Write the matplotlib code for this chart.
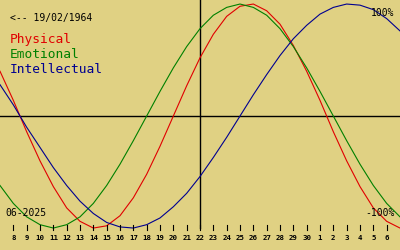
import matplotlib
matplotlib.use('Agg')
import matplotlib.pyplot as plt
import matplotlib.transforms as mtransforms

# days shown: 7 June 2025 .. 7 July 2025
day_labels = [7, 8, 9, 10, 11, 12, 13, 14, 15, 16, 17, 18, 19, 20, 21, 22,
              23, 24, 25, 26, 27, 28, 29, 30, 1, 2, 3, 4, 5, 6, 7]
today_idx = 15  # 22 June

physical = [0.40, 0.14, -0.14, -0.40, -0.63, -0.82, -0.94, -1.00, -0.98, -0.89,
            -0.73, -0.52, -0.27, 0.00, 0.27, 0.52, 0.73, 0.89, 0.98, 1.00,
            0.94, 0.82, 0.63, 0.40, 0.14, -0.14, -0.40, -0.63, -0.82, -0.94, -1.00]
emotional = [-0.62, -0.78, -0.90, -0.97, -1.00, -0.97, -0.90, -0.78, -0.62, -0.43,
             -0.22, 0.00, 0.22, 0.43, 0.62, 0.78, 0.90, 0.97, 1.00, 0.97,
             0.90, 0.78, 0.62, 0.43, 0.22, 0.00, -0.22, -0.43, -0.62, -0.78, -0.90]
intellectual = [0.28, 0.10, -0.10, -0.28, -0.46, -0.62, -0.76, -0.87, -0.95, -0.99,
                -1.00, -0.97, -0.91, -0.81, -0.69, -0.54, -0.37, -0.19, 0.00, 0.19,
                0.37, 0.54, 0.69, 0.81, 0.91, 0.97, 1.00, 0.99, 0.95, 0.87, 0.76]

bg = '#e0d183'
red = '#e00000'
green = '#008000'
blue = '#000090'
mono = 'DejaVu Sans Mono'

fig = plt.figure(figsize=(4, 2.5), dpi=100, facecolor=bg)
ax = fig.add_axes([0, 0, 1, 1])
ax.set_facecolor(bg)
ax.axis('off')

x = list(range(len(day_labels)))
ax.set_xlim(0, len(day_labels) - 1)
ax.set_ylim(-1.196, 1.036)

# axes lines
ax.axhline(0, color='black', lw=1.0)
ax.axvline(today_idx, ymin=0.088, ymax=1, color='black', lw=1.0)

ax.plot(x, physical, color=red, lw=0.8)
ax.plot(x, emotional, color=green, lw=0.8)
ax.plot(x, intellectual, color=blue, lw=0.8)

# day ticks along the bottom
trans = mtransforms.blended_transform_factory(ax.transData, ax.transAxes)
for i in x[1:-1]:
    ax.plot([i, i], [0.08, 0.10], color='black', lw=0.8, transform=trans)
    ax.text(i, 0.05, str(day_labels[i]), transform=trans, ha='center', va='center',
            fontsize=5.3, family=mono, fontweight='bold')


def px(xp, yp):
    return xp / 400, 1 - yp / 250


fig.text(*px(10, 21), '<-- 19/02/1964', fontsize=7, family=mono, va='baseline')
fig.text(*px(10, 43), 'Physical', fontsize=9.3, family=mono, color=red, va='baseline')
fig.text(*px(10, 58), 'Emotional', fontsize=9.3, family=mono, color=green, va='baseline')
fig.text(*px(10, 73), 'Intellectual', fontsize=9.3, family=mono, color=blue, va='baseline')
fig.text(*px(394, 16), '100%', fontsize=7, family=mono, ha='right', va='baseline')
fig.text(*px(395, 216), '-100%', fontsize=7, family=mono, ha='right', va='baseline')
fig.text(*px(5, 216), '06-2025', fontsize=7, family=mono, va='baseline')

fig.savefig('out.png', dpi=100, facecolor=bg)
